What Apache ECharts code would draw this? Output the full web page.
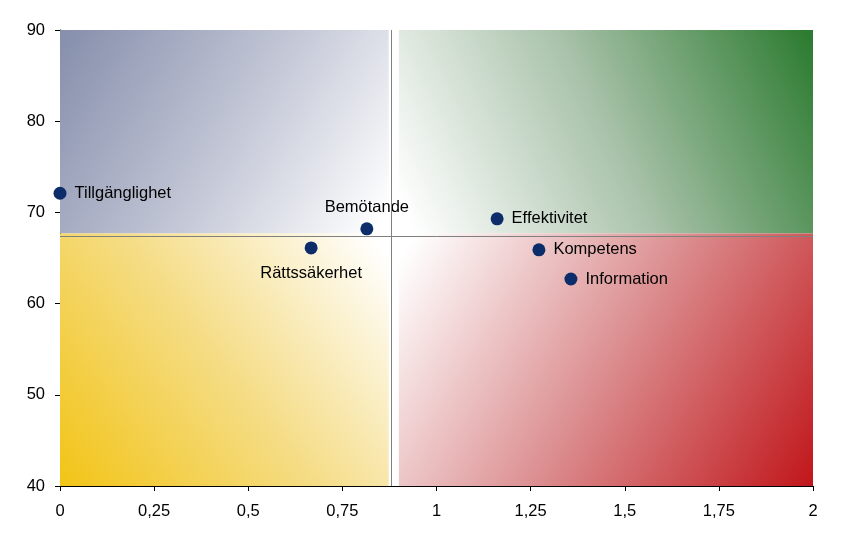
<!DOCTYPE html>
<html><head><meta charset="utf-8">
<script src="https://cdn.jsdelivr.net/npm/echarts@6/dist/echarts.min.js"></script>
<style>html,body{margin:0;padding:0;background:#fff}#c{width:847px;height:540px}</style>
</head><body><div id="c"></div>
<script>
const names = ['Tillgänglighet','Rättssäkerhet','Bemötande','Effektivitet','Kompetens','Information'];
const xValues = [0, 0.667, 0.815, 1.161, 1.272, 1.357];
const yValues = [72.1, 66.1, 68.2, 69.3, 65.9, 62.7];
const labelPos = ['right','bottom','top','right','right','right'];
const xRefLine = 0.878;
const yRefLine = 67.4;
const xSplit = [0.873, 0.9];
const ySplit = 67.7;
const xTicks = [0, 0.25, 0.5, 0.75, 1, 1.25, 1.5, 1.75, 2];
const yTicks = [40, 50, 60, 70, 80, 90];

function grad(x, y, x2, y2, c, mid) {
  return new echarts.graphic.LinearGradient(x, y, x2, y2, [
    {offset:0,color:c},{offset:0.5,color:mid},{offset:0.97,color:'#ffffff'},{offset:1,color:'#ffffff'}]);
}
const font = 'Liberation Sans, Arial, sans-serif';
const fs = 16.5;
const chart = echarts.init(document.getElementById('c'), null, {renderer:'canvas'});
chart.setOption({
  animation:false,
  backgroundColor:'#ffffff',
  grid:{left:60,right:34,top:30,bottom:54},
  xAxis:{type:'value',min:xTicks[0],max:xTicks[xTicks.length-1],interval:0.25,
    splitLine:{show:false},
    axisLine:{lineStyle:{color:'#000',width:1}},
    axisTick:{show:true,inside:false,length:5,lineStyle:{color:'#000'}},
    axisLabel:{color:'#000',fontSize:fs,fontFamily:font,margin:17,
      formatter:v=>String(v).replace('.',',')}},
  yAxis:{type:'value',min:yTicks[0],max:yTicks[yTicks.length-1],interval:10,
    splitLine:{show:false},
    axisLine:{show:true,lineStyle:{color:'#000',width:1}},
    axisTick:{show:true,inside:false,length:5,lineStyle:{color:'#000'}},
    axisLabel:{color:'#000',fontSize:fs,fontFamily:font,margin:15}},
  series:[{
    type:'scatter',
    symbolSize:13,
    itemStyle:{color:'#0c2d69',opacity:1},
    data:names.map((n,i)=>({name:n,value:[xValues[i],yValues[i]],
      label:{show:true,position:labelPos[i],distance:labelPos[i]==='right'?8:(labelPos[i]==='top'?6:10)}})),
    label:{formatter:p=>p.name,color:'#000',fontSize:fs,fontFamily:font},
    markArea:{silent:true,
      data:[
        [{coord:[0,ySplit],itemStyle:{opacity:1,color:grad(0,0,1,1,'#858eab','#c0c4d4')}},{coord:[xSplit[0],90]}],
        [{coord:[xSplit[1],ySplit],itemStyle:{opacity:1,color:grad(1,0,0,1,'#2a7a2e','#a9c2aa')}},{coord:[2,90]}],
        [{coord:[0,40],itemStyle:{opacity:1,color:grad(0,1,1,0,'#f2c416','#f5dd88')}},{coord:[xSplit[0],ySplit]}],
        [{coord:[xSplit[1],40],itemStyle:{opacity:1,color:grad(1,1,0,0,'#c0161a','#dc9092')}},{coord:[2,ySplit]}]
      ]},
    markLine:{silent:true,symbol:'none',label:{show:false},
      lineStyle:{color:'#808080',width:1,type:'solid'},
      data:[{xAxis:xRefLine},{yAxis:yRefLine}]}
  }]
});
</script></body></html>
